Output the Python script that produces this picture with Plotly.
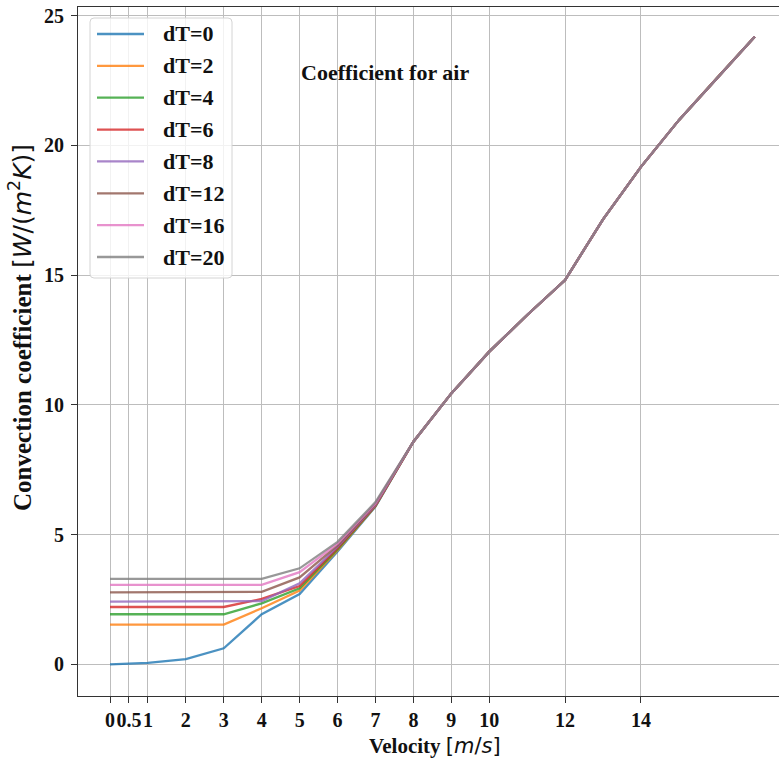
import plotly.graph_objects as go

# Air velocity [m/s]
velocity = [0, 0.5, 1, 2, 3, 4, 5, 6, 7, 8, 9, 10, 11, 12, 13, 14, 15, 16, 17]

# Convection coefficient [W/(m^2 K)] for each temperature difference
h_dT0 = [0.00, 0.02, 0.06, 0.20, 0.62, 1.93, 2.71, 4.35, 6.08, 8.58, 10.44, 12.05, 13.46, 14.81, 17.15, 19.17, 20.97, 22.58, 24.18]
h_dT2 = [1.53, 1.53, 1.53, 1.53, 1.53, 2.16, 2.84, 4.40, 6.10, 8.58, 10.44, 12.05, 13.46, 14.81, 17.15, 19.17, 20.97, 22.58, 24.18]
h_dT4 = [1.93, 1.93, 1.93, 1.93, 1.93, 2.35, 2.93, 4.44, 6.11, 8.58, 10.44, 12.05, 13.46, 14.81, 17.15, 19.17, 20.97, 22.58, 24.18]
h_dT6 = [2.21, 2.21, 2.21, 2.21, 2.21, 2.52, 3.02, 4.48, 6.12, 8.58, 10.44, 12.05, 13.46, 14.81, 17.15, 19.17, 20.97, 22.58, 24.18]
h_dT8 = [2.42, 2.42, 2.42, 2.42, 2.42, 2.44, 3.12, 4.53, 6.14, 8.58, 10.44, 12.05, 13.46, 14.81, 17.15, 19.17, 20.97, 22.58, 24.18]
h_dT12 = [2.77, 2.77, 2.77, 2.77, 2.77, 2.79, 3.35, 4.58, 6.17, 8.58, 10.44, 12.05, 13.46, 14.81, 17.15, 19.17, 20.97, 22.58, 24.18]
h_dT16 = [3.06, 3.06, 3.06, 3.06, 3.06, 3.06, 3.55, 4.65, 6.20, 8.58, 10.44, 12.05, 13.46, 14.81, 17.15, 19.17, 20.97, 22.58, 24.18]
h_dT20 = [3.29, 3.29, 3.29, 3.29, 3.29, 3.29, 3.70, 4.72, 6.25, 8.58, 10.44, 12.05, 13.46, 14.81, 17.15, 19.17, 20.97, 22.58, 24.18]

series_names = ["dT=0", "dT=2", "dT=4", "dT=6", "dT=8", "dT=12", "dT=16", "dT=20"]
series_values = [h_dT0, h_dT2, h_dT4, h_dT6, h_dT8, h_dT12, h_dT16, h_dT20]
colors = ["#1f77b4", "#ff7f0e", "#2ca02c", "#d62728",
          "#9467bd", "#8c564b", "#e377c2", "#7f7f7f"]

x_ticks = [0, 0.5, 1, 2, 3, 4, 5, 6, 7, 8, 9, 10, 12, 14]
x_tick_labels = ["0", "0.5", "1", "2", "3", "4", "5", "6", "7", "8", "9", "10", "12", "14"]
y_ticks = [0, 5, 10, 15, 20, 25]

SERIF = "Liberation Serif, Times New Roman, serif"
MATH = "font-family:DejaVu Sans;font-weight:normal"
TEXT_COLOR = "#111111"
LINE_W = 2.3

# Plot-area geometry in pixels (used to place the legend box and labels)
W, H = 779, 765
M_L, M_R, M_T, M_B = 78, 0, 7, 69
PW = W - M_L - M_R
PH = H - M_T - M_B


def px(x):
    return (x - M_L) / PW


def py(y):
    return (H - M_B - y) / PH


fig = go.Figure()
for name, vals, col in zip(series_names, series_values, colors):
    fig.add_trace(go.Scatter(
        x=velocity, y=vals, mode="lines", name=name,
        line=dict(color=col, width=LINE_W), opacity=0.8, showlegend=False,
    ))

axis_common = dict(
    showgrid=True, gridcolor="#bdbdbd", gridwidth=1,
    zeroline=False, showline=True, linecolor="#333333", linewidth=1,
    ticks="outside", ticklen=6, tickcolor="#333333", tickwidth=1,
    tickfont=dict(family=SERIF, size=20, color=TEXT_COLOR, weight="bold"),
)

fig.update_layout(
    width=W, height=H,
    margin=dict(l=M_L, r=M_R, t=M_T, b=M_B),
    paper_bgcolor="white", plot_bgcolor="white",
    showlegend=False,
    xaxis=dict(
        range=[-0.844, 17.64], tickmode="array", tickvals=x_ticks,
        ticktext=x_tick_labels, tickangle=0, mirror=True, **axis_common,
    ),
    yaxis=dict(
        range=[-1.22, 25.33], tickmode="array", tickvals=y_ticks,
        mirror=False, ticklabelstandoff=3, **axis_common,
    ),
)

# Legend frame with rounded corners
bx0, bx1, by0, by1, r = 90, 232, 18, 278, 4
frame = (f"M {px(bx0 + r)},{py(by0)} L {px(bx1 - r)},{py(by0)} "
         f"Q {px(bx1)},{py(by0)} {px(bx1)},{py(by0 + r)} "
         f"L {px(bx1)},{py(by1 - r)} Q {px(bx1)},{py(by1)} {px(bx1 - r)},{py(by1)} "
         f"L {px(bx0 + r)},{py(by1)} Q {px(bx0)},{py(by1)} {px(bx0)},{py(by1 - r)} "
         f"L {px(bx0)},{py(by0 + r)} Q {px(bx0)},{py(by0)} {px(bx0 + r)},{py(by0)} Z")
fig.add_shape(type="path", path=frame, xref="paper", yref="paper",
              fillcolor="rgba(255,255,255,0.8)", line=dict(color="#d4d4d4", width=1),
              layer="above")

row0, row_step = 34, 31.86
for i, (name, col) in enumerate(zip(series_names, colors)):
    yrow = row0 + i * row_step
    fig.add_shape(type="line", xref="paper", yref="paper",
                  x0=px(97), x1=px(144), y0=py(yrow), y1=py(yrow),
                  line=dict(color=col, width=LINE_W), opacity=0.8, layer="above")
    fig.add_annotation(text=name, xref="paper", yref="paper",
                       x=px(161), y=py(yrow), xanchor="left", yanchor="middle",
                       showarrow=False,
                       font=dict(family=SERIF, size=22, color=TEXT_COLOR, weight="bold"))

fig.add_annotation(
    text="Coefficient for air", xref="paper", yref="paper",
    x=px(385), y=py(73), xanchor="center", yanchor="middle", showarrow=False,
    font=dict(family=SERIF, size=22, color=TEXT_COLOR, weight="bold"),
)
fig.add_annotation(
    text=f"Velocity <span style='{MATH}'>[<i>m</i>/<i>s</i>]</span>",
    xref="paper", yref="paper", x=px(435), y=py(746),
    xanchor="center", yanchor="middle", showarrow=False,
    font=dict(family=SERIF, size=21, color=TEXT_COLOR, weight="bold"),
)
fig.add_annotation(
    text=(f"Convection coefficient <span style='{MATH}'>"
          f"[<i>W</i>/(<i>m</i><sup>2</sup><i>K</i>)]</span>"),
    xref="paper", yref="paper", x=px(20), y=py(328), textangle=-90,
    xanchor="center", yanchor="middle", showarrow=False,
    font=dict(family=SERIF, size=25, color=TEXT_COLOR, weight="bold"),
)

fig.write_html("out.html")
